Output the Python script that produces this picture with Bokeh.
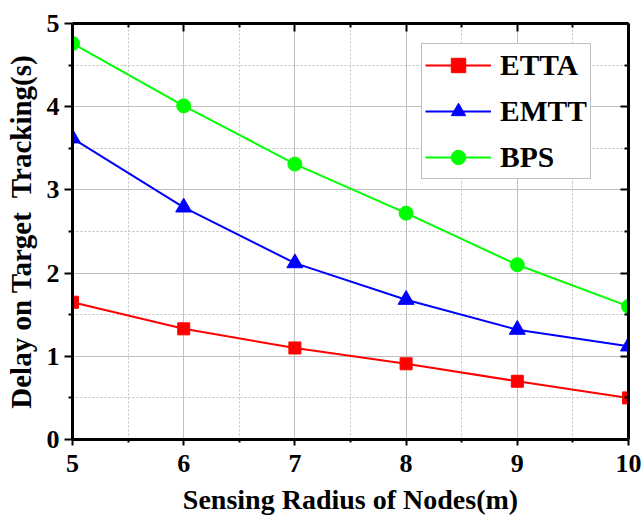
from bokeh.plotting import figure
from bokeh.models import Range1d, LinearAxis, Legend, LegendItem, FixedTicker
from bokeh.embed import file_html
from bokeh.resources import INLINE

x_vals = [5, 6, 7, 8, 9, 10]
etta = [1.65, 1.33, 1.10, 0.91, 0.70, 0.50]
emtt = [3.62, 2.79, 2.12, 1.68, 1.32, 1.12]
bps = [4.76, 4.01, 3.31, 2.72, 2.10, 1.60]
series_names = ["ETTA", "EMTT", "BPS"]
x_ticks = [5, 6, 7, 8, 9, 10]
y_ticks = [0, 1, 2, 3, 4, 5]
x_title = "Sensing Radius of Nodes(m)"
y_title = "Delay on Target\u00a0 Tracking(s)"

FONT = "Liberation Serif"

p = figure(width=644, height=517, output_backend="svg", toolbar_location=None,
           x_range=Range1d(5, 10), y_range=Range1d(0, 5),
           min_border_left=72, min_border_right=16, min_border_top=23, min_border_bottom=78,
           background_fill_color="white", border_fill_color="white")
p.outline_line_color = None

for g in (p.xgrid[0], p.ygrid[0]):
    g.grid_line_color = "#c0c0c0"
    g.grid_line_width = 1
    g.minor_grid_line_color = "#c0c0c0"
    g.minor_grid_line_dash = "2 2"
    g.minor_grid_line_width = 1

def style_axis(ax, outward=True, labels=True, tick=8):
    ax.axis_line_width = 3
    ax.axis_line_color = "black"
    ax.major_tick_line_width = 2
    ax.minor_tick_line_width = 2
    ax.major_tick_line_color = "black"
    ax.minor_tick_line_color = "black"
    if outward:
        ax.major_tick_out = tick
        ax.major_tick_in = 0
        ax.minor_tick_out = tick // 2
        ax.minor_tick_in = 0
    else:
        ax.major_tick_out = 0
        ax.major_tick_in = tick
        ax.minor_tick_out = 0
        ax.minor_tick_in = tick // 2
    if labels:
        ax.major_label_text_font = FONT
        ax.major_label_text_font_style = "bold"
        ax.major_label_text_font_size = "26px"
        ax.major_label_text_color = "black"
        ax.axis_label_text_font = FONT
        ax.axis_label_text_font_style = "bold"
        ax.axis_label_text_color = "black"
    else:
        ax.major_label_overrides = {t: "" for t in list(range(0, 11))}
        ax.major_label_text_font_size = "1px"
        ax.major_label_standoff = 0

xt = FixedTicker(ticks=x_ticks, minor_ticks=[5.5, 6.5, 7.5, 8.5, 9.5])
yt = FixedTicker(ticks=y_ticks, minor_ticks=[0.5, 1.5, 2.5, 3.5, 4.5])

p.xaxis[0].ticker = xt
p.yaxis[0].ticker = yt
p.xgrid[0].ticker = xt
p.ygrid[0].ticker = yt
style_axis(p.xaxis[0], tick=6)
style_axis(p.yaxis[0], tick=8)
p.xaxis[0].axis_label = x_title
p.yaxis[0].axis_label = y_title
p.xaxis[0].axis_label_text_font_size = "28px"
p.yaxis[0].axis_label_text_font_size = "29px"
p.xaxis[0].major_label_standoff = 9
p.yaxis[0].major_label_standoff = 5
p.xaxis[0].axis_label_standoff = 9
p.yaxis[0].axis_label_standoff = 7

top = LinearAxis(ticker=xt)
right = LinearAxis(ticker=yt)
style_axis(top, outward=False, labels=False)
style_axis(right, outward=False, labels=False)
p.add_layout(top, "above")
p.add_layout(right, "right")

colors = ["#ff0000", "#0000ff", "#00ff00"]
data = [etta, emtt, bps]
items = []
for name, ys, c in zip(series_names, data, colors):
    ln = p.line(x_vals, ys, line_color=c, line_width=2)
    if name == "ETTA":
        mk = p.scatter(x_vals, ys, marker="square", size=12, fill_color=c, line_color=c)
    elif name == "EMTT":
        mk = p.scatter(x_vals, ys, marker="triangle", size=16, fill_color=c, line_color=c)
    else:
        mk = p.scatter(x_vals, ys, marker="circle", size=14, fill_color=c, line_color=c)
    items.append(LegendItem(label=name, renderers=[ln, mk]))

legend = Legend(items=items, location=(349, 260),
                label_text_font=FONT, label_text_font_style="bold",
                label_text_font_size="29.5px", label_text_color="black",
                glyph_width=66, glyph_height=36, label_standoff=9,
                spacing=10, padding=3, margin=0,
                border_line_color="#808080", border_line_width=1.5,
                background_fill_alpha=1.0)
p.add_layout(legend, "center")

open("out.html", "w").write(file_html(p, INLINE))
